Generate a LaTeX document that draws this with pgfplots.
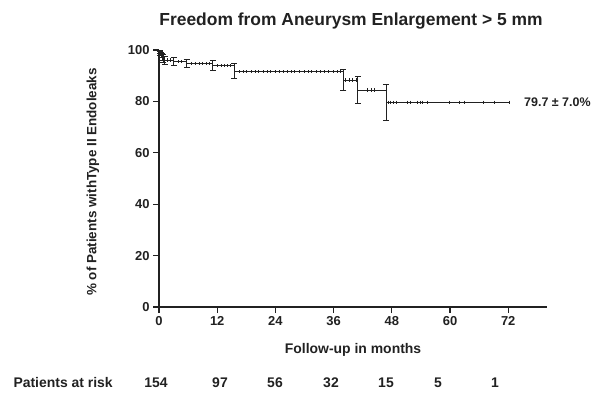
\documentclass[border=0pt]{standalone}
\usepackage{pgfplots}
\pgfplotsset{compat=1.18}
\usepackage{fontspec}
\setmainfont{Liberation Sans}
\definecolor{ink}{gray}{0.13}
\begin{document}
\begin{tikzpicture}[x=1bp,y=1bp]
\useasboundingbox (0,0) rectangle (597,392);
\begin{axis}[
  at={(159bp,85bp)}, anchor=south west,
  scale only axis, width=388bp, height=257bp,
  xmin=0, xmax=80, ymin=0, ymax=100,
  axis x line*=bottom, axis y line*=left,
  axis line style={line width=1.1bp, ink, -},
  xtick={0,12,24,36,48,60,72}, ytick={0,20,40,60,80,100},
  tick style={line width=1.1bp, ink},
  major tick length=6bp,
  tick align=outside,
  ticklabel style={font=\bfseries\fontsize{13}{15}\selectfont, text=ink},
  /pgf/number format/assume math mode=true,
  clip=false,
]
% Kaplan-Meier curve
\addplot[const plot, ink, line width=0.9bp, mark=none] coordinates {
 (0,100) (0.15,99.35) (0.3,98.7) (0.5,98.05) (0.7,97.4) (0.9,96.75) (1.2,96.1)
 (3.0,95.5) (5.7,94.8) (11.1,93.9) (15.5,91.5) (38,88.3) (41,84.4) (46.8,79.7) (72.3,79.7)};
% error bars
\addplot[draw=none, mark=none,
  error bars/.cd, y dir=both, y explicit,
  error bar style={draw=ink, line width=0.8bp},
  error mark options={draw=ink, rotate=90, mark size=3bp, line width=0.8bp}]
  coordinates {
 (0.15,99.35) +- (0,0.65)
 (0.3,98.7) +- (0,0.9)
 (0.5,98.05) +- (0,1.1)
 (0.7,97.4) +- (0,1.3)
 (0.9,96.75) +- (0,1.4)
 (1.2,96.1) +- (0,1.55)
 (3.0,95.5) +- (0,1.65)
 (5.7,94.8) +- (0,1.7)
 (11.1,93.9) +- (0,1.95)
 (15.5,91.8) +- (0,2.9)
 (38,88.4) +- (0,4.0)
 (41,84.6) +- (0,5.3)
 (46.8,79.7) +- (0,7.0)
};
% censored observations
\addplot[only marks, mark=|, mark size=1.6bp, ink, mark options={line width=0.8bp}] coordinates {
 (1.8,96.1) (2.4,96.1)
 (4.0,95.5) (4.6,95.5)
 (6.6,94.8) (7.5,94.8) (8.3,94.8) (9.0,94.8) (9.8,94.8) (10.4,94.8)
 (12.0,93.9) (12.8,93.9) (13.5,93.9) (14.2,93.9) (14.8,93.9)
 (16.5,91.5) (17.3,91.5) (18.0,91.5) (19.0,91.5) (19.8,91.5) (20.5,91.5) (21.5,91.5)
 (22.3,91.5) (23.0,91.5) (24.0,91.5) (24.8,91.5) (25.6,91.5) (26.5,91.5) (27.3,91.5)
 (28.0,91.5) (29.0,91.5) (30.0,91.5) (30.8,91.5) (31.5,91.5) (32.5,91.5) (33.3,91.5)
 (34.0,91.5) (35.0,91.5) (36.0,91.5) (36.8,91.5) (37.5,91.5)
 (38.5,88.3) (39.2,88.3) (39.9,88.3) (40.6,88.3)
 (43.0,84.4) (43.7,84.4) (44.4,84.4)
 (47.2,79.7) (47.8,79.7) (48.4,79.7) (48.9,79.7) (51.3,79.7) (51.8,79.7) (53.2,79.7)
 (53.8,79.7) (54.3,79.7) (55.4,79.7) (59.8,79.7) (62.0,79.7) (63.0,79.7) (66.8,79.7)
 (69.2,79.7) (72.3,79.7)
};
\end{axis}
\node[anchor=base, font=\bfseries\fontsize{17.5}{20}\selectfont, text=ink] at (351,367) {Freedom from Aneurysm Enlargement > 5 mm};
\node[rotate=90, anchor=center, font=\bfseries\fontsize{13.5}{16}\selectfont, text=ink] at (93,210) {\% of Patients withType II Endoleaks};
\node[anchor=base, font=\bfseries\fontsize{14}{16}\selectfont, text=ink] at (353,39) {Follow-up in months};
\node[anchor=base west, font=\bfseries\fontsize{14}{16}\selectfont, text=ink] at (10,5) {Patients at risk};
\foreach \xx/\nn in {156/154, 220/97, 275/56, 331/32, 386/15, 438/5, 495/1}
  \node[anchor=base, font=\bfseries\fontsize{14}{16}\selectfont, text=ink] at (\xx,5) {\nn};
\node[anchor=base west, inner sep=0pt, font=\bfseries\fontsize{12.5}{15}\selectfont, text=ink] at (524,286) {79.7 ± 7.0\%};
\end{tikzpicture}
\end{document}
